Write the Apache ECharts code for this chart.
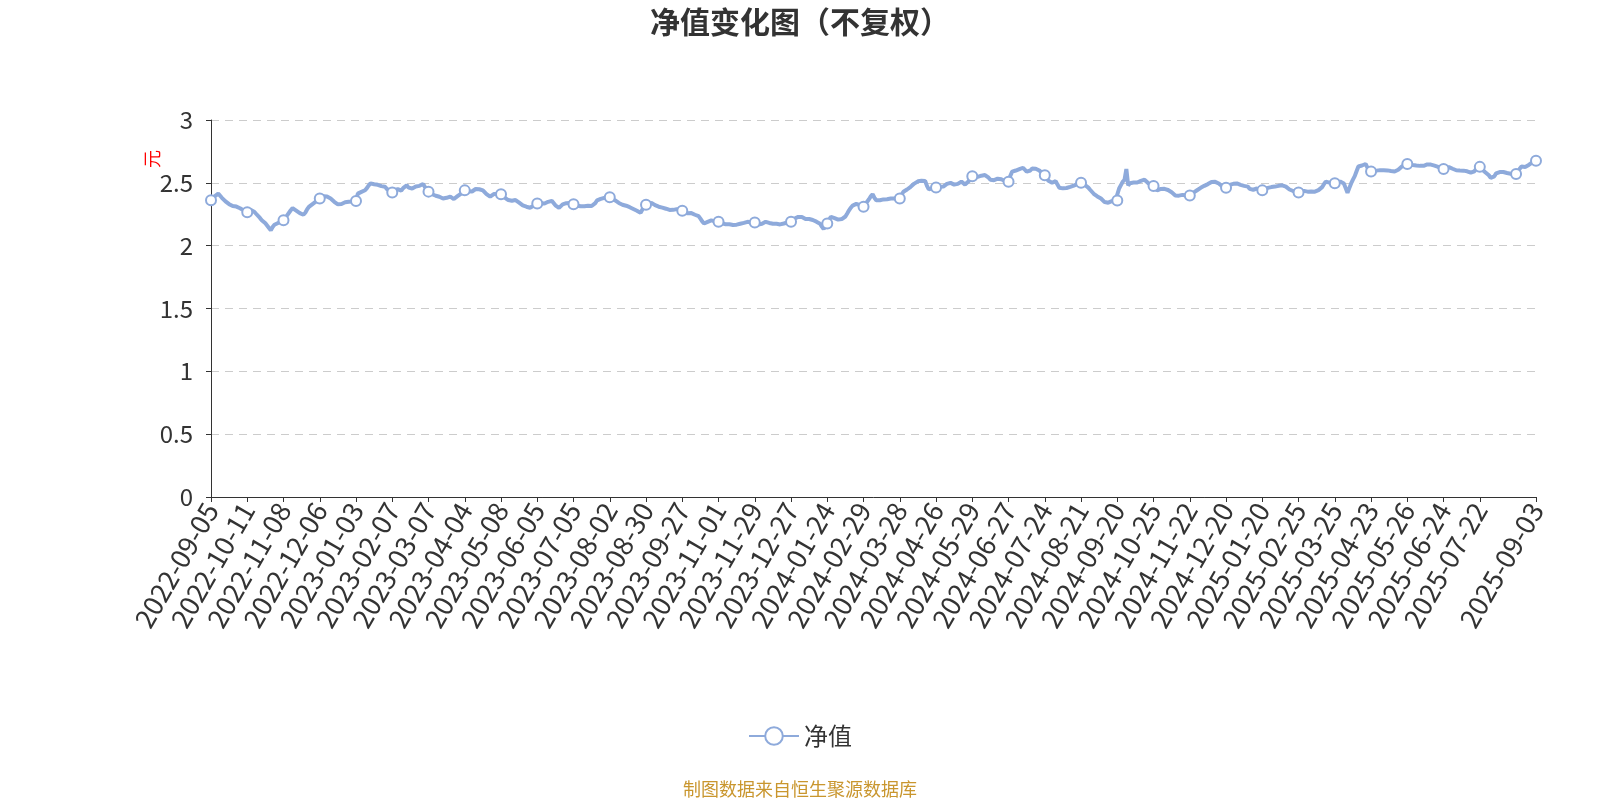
<!DOCTYPE html>
<html>
<head>
<meta charset="utf-8">
<script src="https://cdn.jsdelivr.net/npm/echarts@6/dist/echarts.min.js"></script>
<style>html,body{margin:0;padding:0;background:#fff}#c{width:1600px;height:800px}</style>
</head>
<body>
<div id="c"></div>
<script>
const titleText = '净值变化图（不复权）';
const sourceText = '制图数据来自恒生聚源数据库';
const seriesName = '净值';
const unitName = '元';
const startDate = '2022-09-05';
const endDate = '2025-09-03';
// exchange holidays falling on weekdays
const holidays = ['2022-09-12','2022-10-03','2022-10-04','2022-10-05','2022-10-06','2022-10-07',
'2023-01-02','2023-01-23','2023-01-24','2023-01-25','2023-01-26','2023-01-27','2023-04-05','2023-05-01','2023-05-02','2023-05-03','2023-06-22','2023-06-23','2023-09-29','2023-10-02','2023-10-03','2023-10-04','2023-10-05','2023-10-06',
'2024-01-01','2024-02-09','2024-02-12','2024-02-13','2024-02-14','2024-02-15','2024-02-16','2024-04-04','2024-04-05','2024-05-01','2024-05-02','2024-05-03','2024-06-10','2024-09-16','2024-09-17','2024-10-01','2024-10-02','2024-10-03','2024-10-04','2024-10-07',
'2025-01-01','2025-01-28','2025-01-29','2025-01-30','2025-01-31','2025-02-03','2025-02-04','2025-04-04','2025-05-01','2025-05-02','2025-05-05','2025-06-02'];
// quarter-end NAV dates published on non-trading days
const extraDates = ['2022-12-31','2023-09-30','2023-12-31','2024-03-31','2024-06-30'];
const yTicks = [0, 0.5, 1, 1.5, 2, 2.5, 3];

const navValues = [
2.362,2.375,2.392,2.405,2.414,2.402,2.381,2.366,2.352,2.341,2.330,2.324,2.315,2.308,2.311,2.302,2.298,2.289,2.281,2.272,
2.265,2.276,2.285,2.291,2.268,2.252,2.240,2.221,2.203,2.190,2.178,2.165,2.141,2.122,2.148,2.166,2.172,2.180,2.186,2.194,
2.202,2.221,2.241,2.256,2.282,2.299,2.290,2.279,2.268,2.259,2.251,2.246,2.262,2.288,2.309,2.318,2.331,2.341,2.352,2.366,
2.376,2.384,2.393,2.400,2.391,2.383,2.375,2.361,2.349,2.338,2.329,2.334,2.331,2.340,2.345,2.339,2.350,2.346,2.352,2.358,
2.355,2.414,2.421,2.428,2.433,2.441,2.458,2.479,2.496,2.491,2.489,2.493,2.484,2.480,2.474,2.478,2.469,2.452,2.438,2.427,
2.423,2.441,2.456,2.449,2.440,2.439,2.458,2.472,2.481,2.462,2.447,2.455,2.466,2.471,2.463,2.476,2.485,2.491,2.468,2.446,
2.430,2.418,2.409,2.401,2.397,2.392,2.389,2.381,2.375,2.370,2.381,2.388,2.391,2.379,2.371,2.382,2.394,2.401,2.415,2.429,
2.440,2.437,2.433,2.428,2.431,2.442,2.451,2.456,2.449,2.444,2.440,2.426,2.410,2.397,2.390,2.402,2.411,2.416,2.412,2.409,
2.410,2.396,2.382,2.370,2.363,2.358,2.357,2.361,2.363,2.359,2.342,2.329,2.320,2.314,2.310,2.306,2.302,2.300,2.318,2.331,
2.336,2.333,2.338,2.334,2.335,2.342,2.349,2.353,2.357,2.339,2.321,2.309,2.301,2.316,2.329,2.335,2.338,2.341,2.340,2.334,
2.330,2.324,2.318,2.311,2.313,2.317,2.314,2.315,2.318,2.314,2.316,2.315,2.339,2.360,2.366,2.372,2.376,2.381,2.387,2.384,
2.385,2.377,2.368,2.360,2.351,2.340,2.330,2.326,2.321,2.318,2.315,2.306,2.298,2.292,2.289,2.278,2.267,2.261,2.288,2.312,
2.325,2.333,2.339,2.341,2.331,2.322,2.314,2.310,2.306,2.303,2.300,2.294,2.289,2.284,2.280,2.285,2.289,2.291,2.284,2.280,
2.277,2.268,2.261,2.258,2.262,2.259,2.252,2.246,2.238,2.235,2.215,2.193,2.176,2.181,2.189,2.196,2.201,2.197,2.193,2.191,
2.190,2.184,2.178,2.173,2.170,2.168,2.171,2.166,2.165,2.169,2.167,2.172,2.174,2.176,2.181,2.186,2.190,2.188,2.184,2.186,
2.185,2.176,2.169,2.165,2.174,2.183,2.190,2.186,2.181,2.177,2.175,2.172,2.174,2.170,2.169,2.171,2.176,2.179,2.184,2.188,
2.190,2.203,2.216,2.225,2.229,2.231,2.228,2.219,2.212,2.210,2.212,2.209,2.204,2.199,2.191,2.182,2.175,2.152,2.132,2.158,
2.176,2.205,2.229,2.224,2.219,2.214,2.207,2.201,2.212,2.222,2.232,2.256,2.281,2.302,2.319,2.326,2.332,2.335,2.322,2.314,
2.310,2.331,2.350,2.369,2.392,2.409,2.381,2.362,2.357,2.361,2.366,2.368,2.371,2.369,2.373,2.375,2.372,2.376,2.374,2.377,
2.375,2.405,2.429,2.438,2.447,2.455,2.468,2.482,2.494,2.503,2.512,2.519,2.516,2.518,2.515,2.476,2.448,2.452,2.457,2.459,
2.462,2.465,2.468,2.466,2.470,2.481,2.492,2.498,2.500,2.493,2.486,2.480,2.492,2.503,2.510,2.497,2.486,2.481,2.512,2.541,
2.553,2.550,2.546,2.548,2.552,2.557,2.560,2.562,2.560,2.541,2.524,2.515,2.521,2.529,2.533,2.535,2.528,2.520,2.514,2.510,
2.508,2.556,2.589,2.594,2.598,2.601,2.609,2.616,2.620,2.606,2.589,2.580,2.598,2.614,2.620,2.612,2.610,2.598,2.584,2.570,
2.560,2.534,2.516,2.509,2.501,2.502,2.514,2.486,2.461,2.458,2.456,2.455,2.459,2.464,2.468,2.470,2.478,2.486,2.491,2.497,
2.500,2.493,2.485,2.480,2.462,2.445,2.430,2.413,2.401,2.392,2.383,2.375,2.361,2.347,2.335,2.342,2.350,2.354,2.357,2.359,
2.360,2.455,2.482,2.508,2.525,2.610,2.480,2.497,2.510,2.502,2.495,2.503,2.510,2.516,2.521,2.525,2.511,2.498,2.486,2.478,
2.474,2.456,2.440,2.446,2.451,2.455,2.452,2.448,2.443,2.440,2.425,2.410,2.400,2.403,2.398,2.400,2.404,2.399,2.402,2.401,
2.400,2.411,2.422,2.430,2.441,2.452,2.460,2.468,2.476,2.484,2.490,2.498,2.507,2.515,2.508,2.501,2.495,2.482,2.470,2.463,
2.460,2.472,2.484,2.490,2.492,2.496,2.495,2.489,2.484,2.480,2.476,2.473,2.470,2.452,2.437,2.445,2.451,2.455,2.449,2.443,
2.440,2.446,2.452,2.460,2.463,2.466,2.468,2.470,2.473,2.476,2.479,2.480,2.475,2.470,2.459,2.447,2.441,2.435,2.429,2.425,
2.423,2.432,2.440,2.436,2.433,2.430,2.428,2.431,2.429,2.430,2.436,2.442,2.447,2.466,2.489,2.510,2.506,2.502,2.499,2.496,
2.497,2.503,2.508,2.510,2.503,2.495,2.458,2.420,2.458,2.495,2.525,2.553,2.592,2.630,2.634,2.638,2.640,2.650,2.621,2.598,
2.590,2.594,2.597,2.597,2.599,2.601,2.600,2.600,2.598,2.599,2.597,2.594,2.592,2.590,2.590,2.604,2.619,2.630,2.638,2.645,
2.650,2.647,2.644,2.642,2.640,2.638,2.637,2.635,2.636,2.635,2.641,2.646,2.650,2.645,2.641,2.637,2.635,2.627,2.619,2.613,
2.610,2.616,2.621,2.625,2.619,2.612,2.605,2.600,2.599,2.598,2.597,2.597,2.594,2.592,2.590,2.581,2.575,2.592,2.611,2.622,
2.627,2.610,2.597,2.584,2.571,2.560,2.540,2.525,2.552,2.575,2.581,2.586,2.590,2.586,2.582,2.578,2.575,2.573,2.571,2.570,
2.570,2.591,2.612,2.630,2.627,2.626,2.625,2.642,2.655,2.663,2.671,2.675
];

// build the trading-day category list
function fmt(d){const m=d.getUTCMonth()+1, day=d.getUTCDate();return d.getUTCFullYear()+'-'+(m<10?'0':'')+m+'-'+(day<10?'0':'')+day;}
const holidaySet = new Set(holidays), extraSet = new Set(extraDates);
const dates = [];
for (let d = new Date(startDate+'T00:00:00Z'); fmt(d) <= endDate; d.setUTCDate(d.getUTCDate()+1)) {
  const s = fmt(d), wd = d.getUTCDay();
  if ((wd !== 0 && wd !== 6 && !holidaySet.has(s)) || extraSet.has(s)) dates.push(s);
}

const font = '"Noto Sans CJK SC", "Noto Sans", sans-serif';
const lineColor = '#8eaadb';
const chart = echarts.init(document.getElementById('c'), null, {renderer: 'canvas'});
chart.setOption({
  backgroundColor: '#fff',
  animation: false,
  textStyle: {fontFamily: font},
  title: [
    {text: titleText, left: 'center', top: 2, textStyle: {fontSize: 30, fontWeight: 'bold', color: '#333', fontFamily: font}},
    {text: sourceText, left: 'center', top: 775, textStyle: {fontSize: 18, fontWeight: 'normal', color: '#c9962e', fontFamily: font}}
  ],
  legend: {
    bottom: 47, left: 'center',
    itemWidth: 50, itemHeight: 22,
    textStyle: {fontSize: 24, color: '#333', fontFamily: font},
    data: [seriesName]
  },
  grid: {left: 211, right: 64, top: 120, bottom: 303, containLabel: false},
  xAxis: {
    type: 'category',
    data: dates,
    boundaryGap: false,
    axisLine: {show: true, lineStyle: {color: '#333', width: 1}},
    axisTick: {show: true, lineStyle: {color: '#333'}},
    axisLabel: {interval: 19, showMaxLabel: true, rotate: 60, fontSize: 27, color: '#333', fontFamily: font, margin: 8},
    splitLine: {show: false}
  },
  yAxis: {
    type: 'value',
    min: 0, max: 3, interval: 0.5,
    name: unitName,
    nameLocation: 'end',
    nameRotate: 90,
    nameGap: -49,
    nameTextStyle: {color: '#ff0000', fontSize: 18, fontFamily: font, verticalAlign: 'bottom', padding: [0, 0, 50, 0]},
    axisLine: {show: true, lineStyle: {color: '#333', width: 1}},
    axisTick: {show: true, lineStyle: {color: '#333'}},
    axisLabel: {fontSize: 24, color: '#333', fontFamily: font, margin: 18},
    splitLine: {show: true, lineStyle: {color: '#ccc', type: [8, 6], width: 1}}
  },
  series: [{
    name: seriesName,
    type: 'line',
    data: navValues,
    showAllSymbol: 'auto',
    symbol: 'emptyCircle',
    symbolSize: 10,
    lineStyle: {color: lineColor, width: 4},
    itemStyle: {color: lineColor, borderColor: lineColor, borderWidth: 2},
    emphasis: {disabled: true}
  }]
});
</script>
</body>
</html>
